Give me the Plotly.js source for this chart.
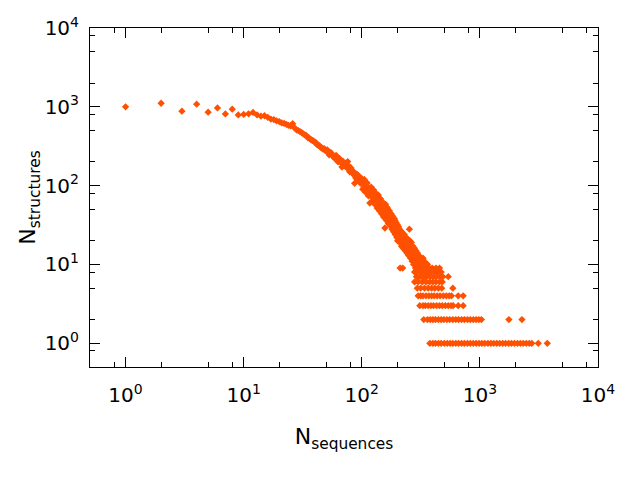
<!DOCTYPE html>
<html>
<head>
<meta charset="utf-8">
<script src="https://cdn.plot.ly/plotly-3.0.1.min.js"></script>
<style>html,body{margin:0;padding:0;background:#fff;}#chart{width:640px;height:480px;}</style>
</head>
<body>
<div id="chart"></div>
<script>
// Main decay: number of structures for each number of sequences
const seqCurve = [
  1,2,3,4,5,6,7,8,9,10,
  11,12,13,14,15,16,17,18,19,20,21,22,23,24,25,26,27,28,29,30,
  31,32,33,34,35,36,37,38,39,40,41,42,43,44,45,46,47,48,49,50,
  52,54,56,58,60,62,64,66,68,70,72,74,76,78,80,82,84,86,87,88,90,92,94,96,98,100,
  103,106,109,112,115,117,118,121,124,127,130,133,136,139,142,145,148,151,154,156,157,160,163,166,169,172,175,178,181,184,187,190,193,196,199,
  202,206,210,211,214,218,222,226,230,234,238,242,246,250,253,256,260,264,268,272,276,280,284,288,292,296,300,304,308,312,316,320,324,328,332,336,340,344,348,352
];
const structCurve = [
  1000,1110,880,1080,854,968,812,933,790,800,
  815,850,790,760,770,735,700,690,665,650,625,615,600,580,575,610,540,510,500,485,
  470,455,440,430,405,400,385,375,370,355,350,330,325,320,305,300,290,295,280,275,
  265,255,248,232,238,218,210,212,172,195,185,178,202,165,155,158,145,148,107,135,138,128,122,118,126,110,
  112,98,100,88,92,60,82,86,78,74,79,66,70,63,66,56,60,52,56,49,29,46,50,42,45,39,42,35,38,36,31,34,28,30,26,
  27,24,26,9,22,23,9,21,19,20,17,18,16,17,28,15,14,16,13,14,12,15,12,11,13,12,10,11,12,10,11,9,10,11,9,10,8,9,10,8
];
// Further sequence counts in the steep part of the decay
const seqCurveB = [
  51,53,55,57,59,61,63,65,67,69,71,73,75,77,79,81,83,85,89,91,93,95,97,99,
  101,104,107,110,113,116,119,122,125,128,131,134,137,140,143,146,149,152,155,158,161,164,167,170,173,176,179,182,185,188,191,194,197,
  200,204,208,212,216,220,224,228,232,236,240,244,248,252,258,262,266,270,274,278,282,286,290,294,298,302,306,310,314,318,322,326,330,334,338,342,346,350,356,360,365,370
];
const structCurveB = [
  285,245,262,236,222,240,200,220,195,205,178,192,168,180,150,168,150,138,125,140,118,130,108,120,
  118,96,108,86,96,78,90,72,84,68,72,60,74,56,62,50,58,47,52,44,54,40,46,37,44,33,40,32,38,29,36,25,32,
  32,22,28,20,26,19,24,17,22,16,21,15,19,14,18,13,17,12,16,11,14,13,10,14,11,13,10,12,9,12,10,8,12,9,11,9,10,8,9,10,8,9
];
const seqCurveC = [
  102,105,108,111,114,120,123,126,129,132,135,138,141,144,147,150,153,159,162,165,168,171,174,177,180,183,186,189,192,195,198,
  201,205,209,213,217,221,225,229,233,237,241,245,249,255,259,263,267,271,275,279,283,287,291,295,299,303,307,311,315,319,323,327,331,335,339,343
];
const structCurveC = [
  90,120,82,108,74,96,64,88,58,80,52,76,48,68,44,62,40,58,36,52,33,48,31,44,28,41,26,38,24,34,22,
  20,30,19,27,17,25,16,24,15,22,14,21,13,20,12,19,11,17,10,16,10,15,9,14,9,13,9,12,8,11,8,10,7,10,7,9
];
// Sequence counts for which exactly k structures occur (k = 1 ... 9)
const band1Seq = [377,400,420,445,470,500,530,560,590,625,660,700,740,785,830,880,930,985,1040,1100,1170,1240,1310,1390,1470,1560,1650,1750,1850,1960,2080,2200,2330,2470,2620,2750,3120,3720];
const band2Seq = [335,360,380,400,420,445,470,495,525,555,590,625,660,700,740,785,830,880,930,980,1030,1760,2270];
const band3Seq = [310,330,345,365,385,405,430,455,480,510,540,570,594,655,722];
const band4Seq = [300,315,330,350,370,390,410,435,460,490,520,550,575,655,722];
const band5Seq = [295,315,340,365,390,415,445,475,590];
const band6Seq = [280,300,325,350,375,400,425,455,480];
const band7Seq = [290,310,330,355,380,405,430,460,485,540];
const band8Seq = [280,295,315,335,360,385,410,440,470];
const band9Seq = [285,300,320,345,370,395,425,455];
const bandSeqs = [band1Seq,band2Seq,band3Seq,band4Seq,band5Seq,band6Seq,band7Seq,band8Seq,band9Seq];
const bandCounts = [1,2,3,4,5,6,7,8,9];

// Axis ticks
const majorTicks = [1,10,100,1000,10000];
const majorLabels = ['10<sup>0</sup>','10<sup>1</sup>','10<sup>2</sup>','10<sup>3</sup>','10<sup>4</sup>'];
const minorTicks = [0.5,0.8,2,5,8,20,50,80,200,500,800,2000,5000,8000];
const axisMin = 0.5, axisMax = 10000;

let xs = seqCurve.concat(seqCurveB, seqCurveC), ys = structCurve.concat(structCurveB, structCurveC);
bandSeqs.forEach((arr,i)=>{ arr.forEach(v=>{ xs.push(v); ys.push(bandCounts[i]); }); });

const font = 'DejaVu Sans, Verdana, sans-serif';
function axis(titleText, standoff){
  return {
    type:'log',
    range:[Math.log10(axisMin), Math.log10(axisMax)],
    tickmode:'array', tickvals:majorTicks, ticktext:majorLabels,
    ticks:'inside', ticklen:10, tickwidth:1, tickcolor:'#000',
    minor:{tickmode:'array', tickvals:minorTicks, ticks:'inside', ticklen:5, tickwidth:1, tickcolor:'#000', showgrid:false},
    showline:true, linecolor:'#000', linewidth:1, mirror:'allticks',
    showgrid:false, zeroline:false,
    tickfont:{family:font, size:20, color:'#000'},
    title:{text:titleText, font:{family:font, size:22, color:'#000'}, standoff:standoff},
    automargin:false
  };
}
const xa = axis('N<sub>sequences</sub>', 22); xa.ticklabelstandoff = 10;
const ya = axis('N<sub>structures</sub>', 2); ya.ticklabelstandoff = 6;

Plotly.newPlot('chart', [{
  type:'scatter', mode:'markers', x:xs, y:ys,
  marker:{symbol:'diamond', size:5.6, color:'#ff5000', line:{width:0}},
  hoverinfo:'x+y', showlegend:false
}], {
  width:640, height:480,
  margin:{l:90, r:42, t:28, b:113, pad:0},
  paper_bgcolor:'#fff', plot_bgcolor:'#fff',
  font:{family:font, color:'#000'},
  xaxis:xa, yaxis:ya, showlegend:false
}, {staticPlot:true, displayModeBar:false});
</script>
</body>
</html>
